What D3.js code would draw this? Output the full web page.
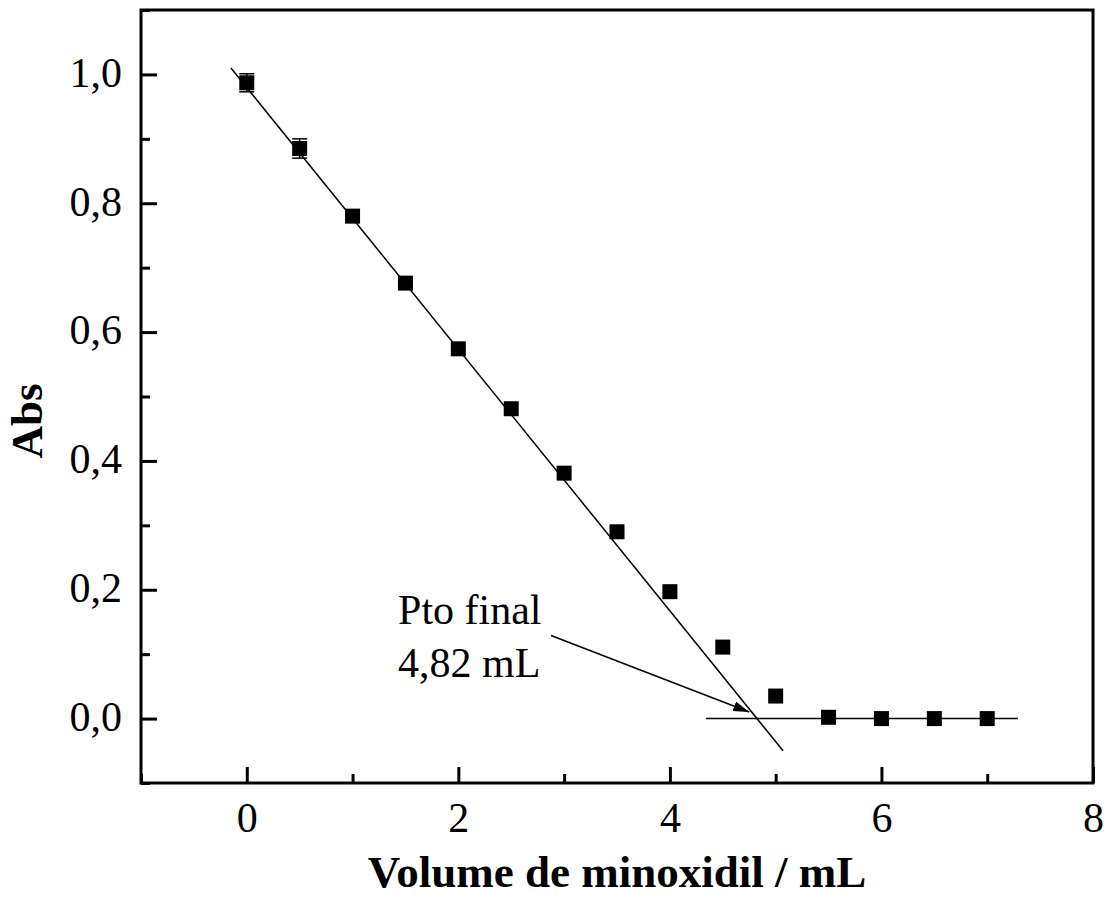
<!DOCTYPE html>
<html>
<head>
<meta charset="utf-8">
<script src="https://cdn.jsdelivr.net/npm/d3@7"></script>
<style>
  body { margin: 0; background: #fff; }
  svg { display: block; }
</style>
</head>
<body>
<div id="chart"></div>
<script>
// volume of minoxidil added (mL) and absorbance
const volume = [0, 0.5, 1, 1.5, 2, 2.5, 3, 3.5, 4, 4.5, 5, 5.5, 6, 6.5, 7];
const absValues = [0.987, 0.885, 0.780, 0.676, 0.574, 0.481, 0.381, 0.290, 0.197, 0.111, 0.035, 0.002, 0.0, 0.0, 0.0];
const absErrors = [0.014, 0.015, 0, 0, 0, 0, 0, 0, 0, 0, 0, 0, 0, 0, 0];

// the two drawn lines (linear fit and baseline), endpoints in data units
const fitLineX = [-0.15, 5.07];
const fitLineY = [1.010, -0.050];
const baseLineX = [4.34, 7.29];
const baseLineY = [0, 0];

const xTicks = [0, 2, 4, 6, 8];
const xMinorTicks = [-1, 1, 3, 5, 7];
const yTicks = [0, 0.2, 0.4, 0.6, 0.8, 1.0];
const yMinorTicks = [-0.1, 0.1, 0.3, 0.5, 0.7, 0.9, 1.1];

const annotLines = ["Pto final", "4,82 mL"];
const annotTextPos = [1.43, 0.1476];
const arrowFrom = [2.876, 0.129];
const arrowTo = [4.75, 0.0102];

const width = 1111, height = 908;
const margin = { top: 10, right: 18, bottom: 125, left: 141 };
const font = "'Liberation Serif', 'Times New Roman', serif";
const fmt = d => d3.format(".1f")(d).replace(".", ",");

const svg = d3.select("#chart").append("svg")
    .attr("width", width)
    .attr("height", height)
    .style("font-family", font);

const x = d3.scaleLinear()
    .domain([-1, 8])
    .range([margin.left, width - margin.right]);

const y = d3.scaleLinear()
    .domain([-0.1, 1.1])
    .range([height - margin.bottom, margin.top]);

svg.append("defs").append("marker")
    .attr("id", "arrowhead")
    .attr("viewBox", "0 0 16 10")
    .attr("refX", 16)
    .attr("refY", 5)
    .attr("markerWidth", 16)
    .attr("markerHeight", 10)
    .attr("markerUnits", "userSpaceOnUse")
    .attr("orient", "auto")
    .append("path")
    .attr("d", "M0,0 L16,5 L0,10 Z")
    .attr("fill", "#000");

// axes, ticks pointing inward
function styleAxis(g) {
    g.select(".domain").remove();
    g.selectAll(".tick line").attr("stroke", "#000").attr("stroke-width", 3);
    g.selectAll(".tick text")
        .attr("fill", "#000")
        .style("font-size", "42px")
        .style("font-family", font);
}

svg.append("g")
    .attr("transform", `translate(0,${y.range()[0]})`)
    .call(d3.axisBottom(x).tickValues(xTicks).tickSizeInner(-16).tickSizeOuter(0)
        .tickPadding(19).tickFormat(d3.format("d")))
    .call(styleAxis);

svg.append("g")
    .attr("transform", `translate(0,${y.range()[0]})`)
    .call(d3.axisBottom(x).tickValues(xMinorTicks).tickSizeInner(-9).tickSizeOuter(0)
        .tickFormat(""))
    .call(styleAxis);

svg.append("g")
    .attr("transform", `translate(${x.range()[0]},0)`)
    .call(d3.axisLeft(y).tickValues(yTicks).tickSizeInner(-16).tickSizeOuter(0)
        .tickPadding(19).tickFormat(fmt))
    .call(styleAxis)
    .call(g => g.selectAll(".tick text").attr("dy", "0.28em"));

svg.append("g")
    .attr("transform", `translate(${x.range()[0]},0)`)
    .call(d3.axisLeft(y).tickValues(yMinorTicks).tickSizeInner(-9).tickSizeOuter(0)
        .tickFormat(""))
    .call(styleAxis);

// frame
svg.append("rect")
    .attr("x", x.range()[0])
    .attr("y", y.range()[1])
    .attr("width", x.range()[1] - x.range()[0])
    .attr("height", y.range()[0] - y.range()[1])
    .attr("fill", "none")
    .attr("stroke", "#000")
    .attr("stroke-width", 3);

// fit line and baseline
const line = d3.line().x(d => x(d[0])).y(d => y(d[1]));
[[fitLineX, fitLineY], [baseLineX, baseLineY]].forEach(([xs, ys]) => {
    svg.append("path")
        .datum(d3.zip(xs, ys))
        .attr("d", line)
        .attr("fill", "none")
        .attr("stroke", "#000")
        .attr("stroke-width", 1.5);
});

// points
const points = volume.map((v, i) => ({ v, a: absValues[i], e: absErrors[i] }));
const size = 15;

const errG = svg.append("g").attr("stroke", "#000").attr("stroke-width", 1.5);
points.filter(d => d.e > 0).forEach(d => {
    const cx = x(d.v);
    errG.append("line")
        .attr("x1", cx).attr("x2", cx)
        .attr("y1", y(d.a - d.e)).attr("y2", y(d.a + d.e));
    [d.a - d.e, d.a + d.e].forEach(val => {
        errG.append("line")
            .attr("x1", cx - size / 2).attr("x2", cx + size / 2)
            .attr("y1", y(val)).attr("y2", y(val));
    });
});

svg.append("g")
    .selectAll("rect")
    .data(points)
    .join("rect")
    .attr("x", d => x(d.v) - size / 2)
    .attr("y", d => y(d.a) - size / 2)
    .attr("width", size)
    .attr("height", size)
    .attr("fill", "#000");

// annotation
svg.append("line")
    .attr("x1", x(arrowFrom[0])).attr("y1", y(arrowFrom[1]))
    .attr("x2", x(arrowTo[0])).attr("y2", y(arrowTo[1]))
    .attr("stroke", "#000")
    .attr("stroke-width", 1.5)
    .attr("marker-end", "url(#arrowhead)");

svg.append("text")
    .attr("x", x(annotTextPos[0]))
    .attr("y", y(annotTextPos[1]))
    .style("font-size", "42px")
    .selectAll("tspan")
    .data(annotLines)
    .join("tspan")
    .attr("x", x(annotTextPos[0]))
    .attr("dy", (d, i) => i === 0 ? 0 : 53.7)
    .text(d => d);

// axis titles
svg.append("text")
    .attr("x", (x.range()[0] + x.range()[1]) / 2)
    .attr("y", 887)
    .attr("text-anchor", "middle")
    .style("font-size", "45px")
    .style("font-weight", "bold")
    .text("Volume de minoxidil / mL");

svg.append("text")
    .attr("transform", "translate(42,421) rotate(-90)")
    .attr("text-anchor", "middle")
    .style("font-size", "45px")
    .style("font-weight", "bold")
    .text("Abs");
</script>
</body>
</html>
